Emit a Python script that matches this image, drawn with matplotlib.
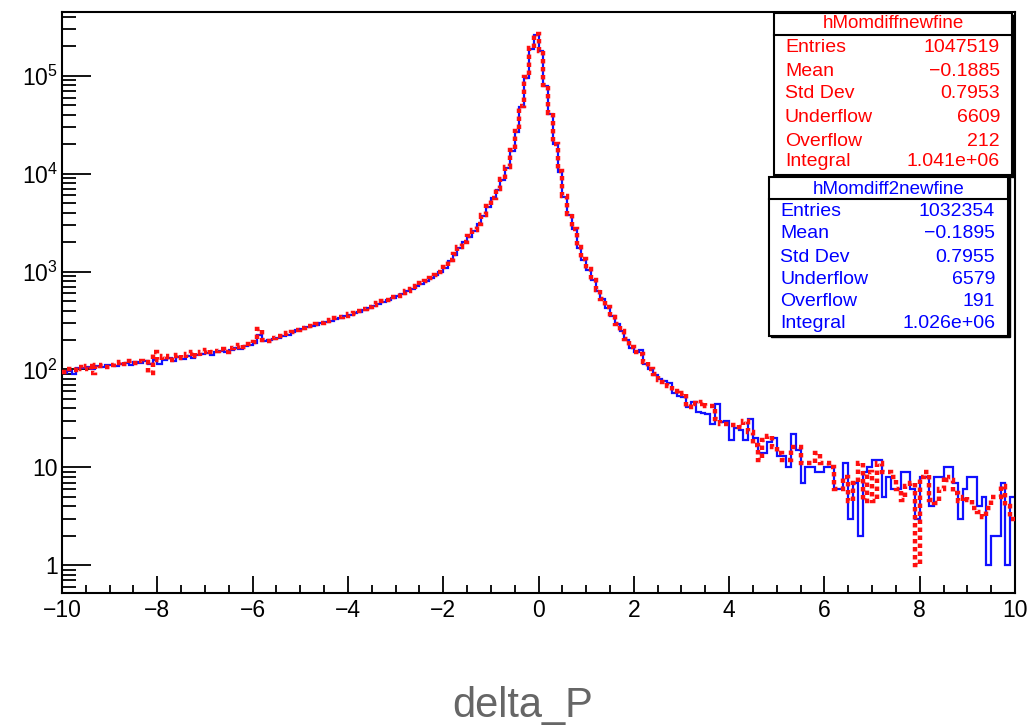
import numpy as np
import matplotlib
matplotlib.use("Agg")
import matplotlib.pyplot as plt
from matplotlib.patches import Rectangle
from matplotlib.ticker import FixedLocator, MultipleLocator

plt.rcParams['font.family'] = ['Liberation Sans', 'DejaVu Sans']
plt.rcParams['mathtext.fontset'] = 'custom'
plt.rcParams['mathtext.rm'] = 'Liberation Sans'

# --- histogram binning: 200 bins from -10 to 10 ---
x_min, x_max, n_bins = -10, 10, 200

# --- hMomdiff2newfine (blue), bin contents ---
counts_blue = [
    92, 96, 90, 104, 103, 106, 100, 108, 105, 110,
    112, 109, 114, 116, 112, 119, 117, 122, 115, 124,
    114, 126, 130, 122, 133, 128, 136, 132, 140, 145,
    146, 142, 152, 156, 150, 160, 166, 162, 172, 178,
    186, 225, 194, 198, 207, 210, 222, 226, 240, 252,
    262, 270, 276, 286, 296, 304, 315, 326, 336, 348,
    360, 375, 390, 408, 428, 448, 466, 488, 510, 535,
    560, 592, 628, 665, 706, 752, 800, 855, 915, 980,
    1100, 1280, 1480, 1740, 2000, 2250, 2600, 3050, 3700, 4600,
    5600, 6900, 8600, 11500, 17000, 27000, 48000, 95000, 190000, 262000,
    178000, 79000, 41000, 20000, 10500, 5800, 3800, 2700, 1750, 1320,
    1040, 820, 640, 520, 430, 350, 290, 245, 200, 165,
    150, 158, 115, 100, 88, 80, 76, 72, 58, 54,
    52, 41, 47, 37, 36, 35, 28, 44, 29, 30,
    19, 25, 24, 19, 31, 20, 14, 14, 18, 20,
    13, 13, 10, 22, 15, 7, 10, 10, 9, 9,
    10, 10, 6, 6, 11, 3, 7, 2, 9, 10,
    12, 12, 5, 8, 6, 6, 9, 9, 6, 3,
    8, 8, 4, 8, 8, 10, 10, 7, 3, 6,
    8, 8, 4, 5, 1, 2, 2, 7, 1, 5,
]

# --- hMomdiffnewfine (red, dashed) ---
counts_red = [
    94, 102, 98, 106, 100, 108, 92, 110, 108, 106,
    112, 116, 118, 114, 121, 117, 123, 119, 92, 150,
    126, 138, 124, 136, 142, 130, 145, 150, 138, 152,
    160, 150, 156, 162, 152, 165, 170, 176, 168, 182,
    190, 262, 200, 196, 212, 220, 222, 235, 244, 256,
    266, 276, 280, 292, 300, 312, 320, 332, 342, 354,
    366, 380, 398, 412, 436, 452, 474, 496, 516, 545,
    570, 600, 640, 672, 716, 765, 810, 870, 925, 995,
    1120, 1300, 1500, 1770, 2030, 2290, 2640, 3100, 3760, 4680,
    5700, 7000, 8750, 11700, 17300, 27500, 48800, 96500, 193000, 266000,
    181000, 80000, 41600, 20300, 10700, 5900, 3860, 2750, 1780, 1340,
    1055, 830, 650, 530, 440, 345, 295, 250, 205, 168,
    150, 145, 118, 102, 90, 78, 74, 68, 60, 56,
    57, 41, 45, 44, 46, 42, 42, 31, 28, 28,
    27, 27, 26, 30, 23, 17, 12, 19, 21, 16,
    14, 12, 12, 16, 16, 11, 11, 11, 14, 11,
    11, 10, 6, 6, 8, 4.5, 7, 11, 4.5, 9,
    4.5, 11, 9, 9, 8, 6, 4.6, 6.5, 7, 1,
    8, 9, 4.6, 4.3, 6, 8, 7.5, 5.5, 4.5, 5,
    4.6, 3.8, 3.5, 3.1, 3.8, 5, 5, 6.5, 4, 3,
]

stats_red = [("Entries", "1047519"), ("Mean", "\u22120.1885"), ("Std Dev", "0.7953"),
             ("Underflow", "6609"), ("Overflow", "212"), ("Integral", "1.041e+06")]
stats_blue = [("Entries", "1032354"), ("Mean", "\u22120.1895"), ("Std Dev", "0.7955"),
              ("Underflow", "6579"), ("Overflow", "191"), ("Integral", "1.026e+06")]

edges = np.linspace(x_min, x_max, n_bins + 1)

W, H = 1029, 725
fig = plt.figure(figsize=(W / 100, H / 100), dpi=100)
ax = fig.add_axes([62 / W, 1 - 593 / H, (1015 - 62) / W, (593 - 12) / H])

ax.stairs(counts_blue, edges, baseline=None, color='#1010ff', lw=1.6, zorder=2)
ax.stairs(counts_red, edges, baseline=None, color='#ff1010', lw=3.2,
          linestyle=(0, (1.0, 0.8)), zorder=3)

ax.set_yscale('log')
ax.set_xlim(x_min, x_max)
ax.set_ylim(0.52, 4.5e5)

# --- ROOT-like ticks ---
ax.xaxis.set_major_locator(MultipleLocator(2))
ax.xaxis.set_minor_locator(MultipleLocator(0.5))
decades = [1, 10, 100, 1e3, 1e4, 1e5]
ax.yaxis.set_major_locator(FixedLocator(decades))
ax.set_yticklabels(['1', '10', r'$\mathregular{10^{2}}$', r'$\mathregular{10^{3}}$',
                    r'$\mathregular{10^{4}}$', r'$\mathregular{10^{5}}$'])
minor = [m * d for d in [0.1] + decades for m in range(2, 10)]
ax.yaxis.set_minor_locator(FixedLocator(minor))
ax.yaxis.set_minor_formatter(plt.NullFormatter())

ax.tick_params(axis='both', which='both', direction='in', top=False, right=False,
               labelsize=16.5, width=1.3, colors='black')
ax.tick_params(axis='x', which='major', length=12, pad=4)
ax.tick_params(axis='x', which='minor', length=6)
ax.tick_params(axis='y', which='major', length=21, pad=3)
ax.tick_params(axis='y', which='minor', length=10)
for s in ax.spines.values():
    s.set_linewidth(1.5)

# --- stat boxes (pixel coords -> figure fraction) ---
def fx(x):
    return x / W

def fy(y):
    return 1 - y / H

def stat_box(left, top, right, bottom, div, title, rows, color, tx_left, tx_right, title_y, row_ys):
    shadow = Rectangle((fx(left + 1.5), fy(bottom + 1.5)), fx(right - left), (bottom - top) / H,
                       transform=fig.transFigure, facecolor='black', edgecolor='black', lw=1, zorder=5)
    box = Rectangle((fx(left), fy(bottom)), fx(right - left), (bottom - top) / H,
                    transform=fig.transFigure, facecolor='white', edgecolor='black', lw=1.5, zorder=6)
    fig.add_artist(shadow)
    fig.add_artist(box)
    fig.add_artist(plt.Line2D([fx(left), fx(right)], [fy(div), fy(div)], transform=fig.transFigure,
                              color='black', lw=1.5, zorder=7))
    fig.text(fx((left + right) / 2), fy(title_y), title, color=color, fontsize=13.5,
             ha='center', va='center', zorder=8)
    for (name, val), y in zip(rows, row_ys):
        fig.text(fx(tx_left), fy(y), name, color=color, fontsize=14, ha='left', va='center', zorder=8)
        fig.text(fx(tx_right), fy(y), val, color=color, fontsize=14, ha='right', va='center', zorder=8)

stat_box(774, 13, 1012, 175, 35, "hMomdiffnewfine", stats_red, '#ff0000',
         785, 1000, 24, [48, 72, 94, 117, 141, 162])
stat_box(769, 177, 1008, 336, 199, "hMomdiff2newfine", stats_blue, '#0000ff',
         780, 995, 189, [211, 233, 257, 279, 302, 323])

fig.text(fx(523), fy(717), "delta_P", color='#666666', fontsize=30, ha='center', va='baseline')

fig.savefig('out.png', dpi=100)
